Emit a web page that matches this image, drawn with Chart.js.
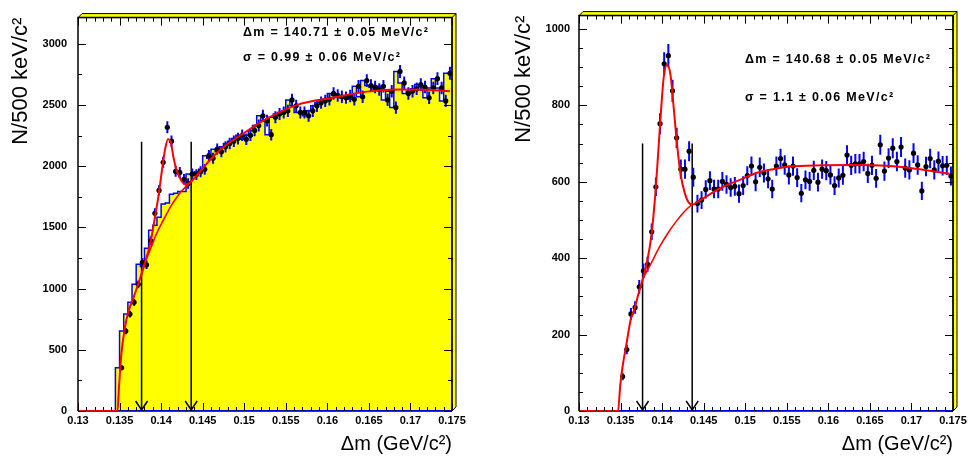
<!DOCTYPE html>
<html><head><meta charset="utf-8">
<script src="https://cdn.jsdelivr.net/npm/chart.js@4/dist/chart.umd.min.js"></script>
<style>
html,body{margin:0;padding:0;background:#fff;}
#wrap{position:relative;width:970px;height:456px;overflow:hidden;}
canvas{position:absolute;top:0;}
</style></head><body>
<div id="wrap">
<canvas id="c1" width="485" height="456" style="left:0"></canvas>
<canvas id="c2" width="485" height="456" style="left:485px"></canvas>
</div>
<script>
// ---- binning (500 keV bins, 0.13 - 0.175 GeV) ----
const binStart = 0.13, binWidth = 0.0005, nBins = 90;

// ---- tick labels ----
const xTicks = [0.13,0.135,0.14,0.145,0.15,0.155,0.16,0.165,0.17,0.175];
const yTicksLeft = [0,500,1000,1500,2000,2500,3000];
const yTicksRight = [0,200,400,600,800,1000];

// ---- left panel: data points ----
const dataLeft = [0,0,0,0,0,0,0,0,0,0,
 353,653,792,888,1035,1215,1195,1391,1616,1803,
 2033,2319,2205,1958,1950,1894,1860,1937,1932,1955,
 1975,2087,2066,2140,2119,2159,2186,2205,2226,2253,
 2221,2253,2293,2333,2413,2373,2258,2400,2427,2440,
 2453,2542,2494,2440,2440,2413,2453,2494,2520,2534,
 2547,2595,2579,2568,2561,2574,2547,2654,2568,2700,
 2660,2648,2627,2654,2542,2614,2480,2775,2681,2595,
 2614,2633,2668,2648,2560,2640,2716,2640,2534,2760];
// ---- left panel: yellow histogram ----
const histLeft = [0,0,0,0,0,0,0,0,0,0,
 353,653,792,888,1035,1200,1180,1330,1477,1517,
 1584,1691,1700,1771,1780,1793,1793,1937,1932,1955,
 1975,2087,2066,2140,2119,2159,2186,2205,2226,2253,
 2221,2253,2293,2333,2413,2373,2258,2400,2427,2440,
 2453,2542,2494,2440,2440,2413,2453,2494,2520,2534,
 2547,2595,2579,2568,2561,2574,2547,2654,2568,2700,
 2660,2648,2627,2654,2542,2614,2480,2775,2681,2595,
 2614,2633,2668,2648,2560,2640,2716,2640,2534,2760];
// ---- left panel: fit curve ----
const fitLeftX = [0.13,0.13475,0.13493,0.13521,0.13562,0.1361,0.13662,0.1371,0.13762,0.13815,0.1387,0.13923,0.13971,0.14014,0.1405,0.14083,0.14115,0.14151,0.14191,0.14243,0.14291,0.14344,0.14404,0.14504,0.14645,0.14805,0.14925,0.1523,0.15631,0.16068,0.16477,0.16874,0.17175,0.17476];
const fitLeftY = [0,0,193,460,674,822,915,1009,1116,1236,1370,1571,1771,1986,2146,2221,2199,2066,1958,1884,1852,1865,1905,1986,2092,2186,2239,2373,2500,2560,2610,2627,2625,2614];
const bgLeftX = [0.13762,0.13818,0.13882,0.13938,0.14002,0.14067,0.14123,0.14188,0.14243,0.14308,0.14348];
const bgLeftY = [1110,1232,1342,1438,1528,1610,1680,1745,1795,1840,1865];

// ---- right panel: data points ----
const dataRight = [0,0,0,0,0,0,0,0,0,0,
 90,161,254,271,325,367,384,469,587,752,
 909,930,838,715,633,633,680,612,543,552,
 580,603,581,581,601,593,585,588,569,590,
 616,641,600,638,623,608,581,641,661,644,
 618,641,611,570,605,601,630,599,633,629,
 618,590,610,617,670,643,647,647,653,622,
 643,609,697,628,662,688,653,691,636,631,
 675,644,576,640,661,631,654,642,643,615];
// ---- right panel: fit curve ----
const fitRightX = [0.13,0.13469,0.13498,0.13529,0.1357,0.13618,0.1367,0.13722,0.1377,0.13818,0.13871,0.13923,0.13971,0.14019,0.14059,0.141,0.14139,0.14179,0.1422,0.14272,0.14332,0.14372,0.1442,0.14533,0.14733,0.14934,0.15134,0.15334,0.15535,0.15936,0.16297,0.16699,0.17099,0.1746];
const fitRightY = [0,0,71,123,174,235,269,312,347,390,459,580,735,873,906,881,795,700,623,571,543,541,547,562,587,605,623,633,640,643,644,642,633,621];
const bgRightX = [0.1377,0.13871,0.13971,0.14071,0.14172,0.14272,0.14372];
const bgRightY = [347,388,430,466,497,523,543];

// ---- signal window arrows ----
const arrowX = [0.13765, 0.14362];
const arrowTopLeft = 2200, arrowTopRight = 700;

// ---- texts ----
const xTitle = 'Δm (GeV/c²)';
const yTitle = 'N/500 keV/c²';
const textLeft = ['Δm = 140.71 ± 0.05 MeV/c²', 'σ = 0.99 ± 0.06 MeV/c²'];
const textRight = ['Δm = 140.68 ± 0.05 MeV/c²', 'σ = 1.1 ± 0.06 MeV/c²'];

Chart.defaults.font.family = '"Liberation Sans", Arial, sans-serif';
Chart.defaults.color = '#000';

function drawSpacedText(ctx, txt, x, yc, targetW, size) {
  ctx.save();
  ctx.font = 'bold ' + size + 'px "Liberation Sans", Arial, sans-serif';
  ctx.textBaseline = 'middle'; ctx.textAlign = 'left'; ctx.fillStyle = '#000';
  const w = ctx.measureText(txt).width;
  const n = Array.from(txt).length;
  if ('letterSpacing' in ctx) {
    ctx.letterSpacing = ((targetW - w) / (n - 1)).toFixed(2) + 'px';
    ctx.fillText(txt, x, yc);
  } else {
    ctx.translate(x, yc); ctx.scale(targetW / w, 1); ctx.fillText(txt, 0, 0);
  }
  ctx.restore();
}

function makeChart(id, o) {
  const centers = [];
  for (let i = 0; i < nBins; i++) centers.push(binStart + (i + 0.5) * binWidth);
  const datasets = [];
  datasets.push({data: o.fitX.map((x, i) => ({x, y: o.fitY[i]})), borderColor: '#ff0000', borderWidth: 2,
    pointRadius: 0, cubicInterpolationMode: 'monotone', order: 1});
  datasets.push({data: o.bgX.map((x, i) => ({x, y: o.bgY[i]})), borderColor: '#ff0000', borderWidth: 1.6,
    pointRadius: 0, cubicInterpolationMode: 'monotone', order: 1});
  const pts = [];
  o.data.forEach((v, i) => { if (v > 0) pts.push({x: centers[i], y: v}); });
  datasets.push({data: pts, showLine: false, pointRadius: 2.6, pointHoverRadius: 2.6,
    pointBackgroundColor: '#000', pointBorderWidth: 0, order: 2});
  const eb = [];
  o.data.forEach((v, i) => { if (v > 0) { const e = Math.sqrt(v);
    eb.push({x: centers[i], y: v - e}, {x: centers[i], y: v + e}, {x: centers[i], y: null}); } });
  datasets.push({data: eb, borderColor: '#0000ff', borderWidth: 2, pointRadius: 0, spanGaps: false, order: 3});
  o.arrowX.forEach(ax => datasets.push({data: [{x: ax, y: 0}, {x: ax, y: o.arrowTop}],
    borderColor: '#000', borderWidth: 1.5, pointRadius: 0, order: 4}));
  datasets.push({data: [{x: binStart, y: 0}, {x: binStart + nBins * binWidth, y: 0}],
    borderColor: '#0000ff', borderWidth: 2, pointRadius: 0, order: 5});
  if (o.hist) {
    const hp = o.hist.map((v, i) => ({x: binStart + i * binWidth, y: v}));
    hp.push({x: binStart + nBins * binWidth, y: o.hist[nBins - 1]});
    datasets.push({data: hp, stepped: 'after', fill: 'origin', backgroundColor: '#ffff00',
      borderColor: '#0000ff', borderWidth: 1.5, pointRadius: 0, order: 6});
  }

  const deco = {
    id: 'deco' + id,
    beforeDatasetsDraw(chart) {
      const {ctx, chartArea: ca} = chart;
      ctx.save();
      ctx.strokeStyle = '#000'; ctx.lineWidth = 1.5;
      ctx.beginPath(); ctx.moveTo(ca.left, ca.bottom); ctx.lineTo(ca.right, ca.bottom); ctx.stroke();
      ctx.restore();
    },
    afterDatasetsDraw(chart) {
      const {ctx, chartArea: ca} = chart;
      const xs = chart.scales.x, ys = chart.scales.y;
      ctx.save();
      const d = 4;
      ctx.fillStyle = '#ffff00'; ctx.strokeStyle = '#000'; ctx.lineWidth = 1;
      ctx.beginPath();
      ctx.moveTo(ca.left, ca.top); ctx.lineTo(ca.left + d, ca.top - d); ctx.lineTo(ca.right + d, ca.top - d);
      ctx.lineTo(ca.right + d, ca.bottom - d); ctx.lineTo(ca.right, ca.bottom); ctx.lineTo(ca.right, ca.top); ctx.closePath();
      ctx.fill(); ctx.stroke();
      ctx.beginPath(); ctx.moveTo(ca.right, ca.top); ctx.lineTo(ca.right + d, ca.top - d); ctx.stroke();
      ctx.lineWidth = 1.5;
      ctx.beginPath();
      ctx.moveTo(ca.left, ca.bottom); ctx.lineTo(ca.left, ca.top); ctx.lineTo(ca.right, ca.top); ctx.lineTo(ca.right, ca.bottom);
      ctx.stroke();
      ctx.lineWidth = 1;
      ctx.beginPath();
      for (let k = 0; k <= 45; k++) {
        const px = Math.round(xs.getPixelForValue(0.13 + k * 0.001)) + 0.5;
        const L = (k % 5 === 0) ? 8 : 4;
        ctx.moveTo(px, ca.bottom); ctx.lineTo(px, ca.bottom - L);
        ctx.moveTo(px, ca.top); ctx.lineTo(px, ca.top + L);
      }
      for (let v = 0; v <= ys.max; v += o.yMinor) {
        const py = Math.round(ys.getPixelForValue(v)) + 0.5;
        const L = (Math.round(v) % o.yMajor === 0) ? 8 : 4;
        ctx.moveTo(ca.left, py); ctx.lineTo(ca.left + L, py);
        ctx.moveTo(ca.right, py); ctx.lineTo(ca.right - L, py);
      }
      ctx.stroke();
      ctx.lineWidth = 1.5;
      const y0 = ys.getPixelForValue(0);
      o.arrowX.forEach(ax => {
        const px = xs.getPixelForValue(ax);
        ctx.beginPath(); ctx.moveTo(px - 6, y0 - 10); ctx.lineTo(px, y0 - 1); ctx.lineTo(px + 6, y0 - 10); ctx.stroke();
      });
      ctx.restore();
      o.texts.forEach((t, i) => drawSpacedText(ctx, t, o.textPos[i][0], o.textPos[i][1], o.textPos[i][2], 12.5));
    }
  };

  return new Chart(document.getElementById(id), {
    type: 'line',
    data: {datasets},
    options: {
      responsive: false, animation: false, devicePixelRatio: 1,
      layout: {padding: o.padding},
      plugins: {legend: {display: false}, tooltip: {enabled: false}},
      events: [],
      scales: {
        x: {type: 'linear', min: binStart, max: binStart + nBins * binWidth, bounds: 'data',
          grid: {display: false, drawTicks: false}, border: {display: false},
          afterBuildTicks: s => { s.ticks = xTicks.map(v => ({value: v})); },
          ticks: {autoSkip: false, maxRotation: 0, padding: 3,
            font: {size: 11, weight: 'bold'}, color: '#000',
            callback: v => String(+(+v).toFixed(3))},
          title: {display: true, text: xTitle, align: 'end', font: {size: 20}, color: '#000', padding: {top: 0, bottom: 0}},
          afterFit: s => { s.height = 45; }
        },
        y: {type: 'linear', min: 0, max: o.yMax, bounds: 'data',
          grid: {display: false, drawTicks: false}, border: {display: false},
          afterBuildTicks: s => { s.ticks = o.yTicks.map(v => ({value: v})); },
          ticks: {autoSkip: false, padding: o.yPad,
            font: {size: 11, weight: 'bold'}, color: '#000', callback: v => String(v)},
          title: {display: true, text: yTitle, align: 'end', font: {size: 22}, color: '#000', padding: {top: o.yTitlePad, bottom: 0}},
          afterFit: s => { s.width = o.yWidth; }
        }
      }
    },
    plugins: [deco]
  });
}

makeChart('c1', {
  data: dataLeft, hist: histLeft, fitX: fitLeftX, fitY: fitLeftY, bgX: bgLeftX, bgY: bgLeftY,
  arrowX: arrowX, arrowTop: arrowTopLeft, yMax: 3215, yTicks: yTicksLeft, yMajor: 500, yMinor: 250,
  padding: {left: 0, top: 10, right: 33, bottom: 0}, yWidth: 78, yPad: 11, yTitlePad: 8,
  texts: textLeft, textPos: [[243, 33, 185], [243, 58, 157]]
});
makeChart('c2', {
  data: dataRight, hist: null, fitX: fitRightX, fitY: fitRightY, bgX: bgRightX, bgY: bgRightY,
  arrowX: arrowX, arrowTop: arrowTopRight, yMax: 1035, yTicks: yTicksRight, yMajor: 200, yMinor: 50,
  padding: {left: 0, top: 11, right: 17, bottom: 0}, yWidth: 94, yPad: 9, yTitlePad: 26,
  texts: textRight, textPos: [[260, 60, 185], [260, 98, 148]]
});
</script>
</body></html>
